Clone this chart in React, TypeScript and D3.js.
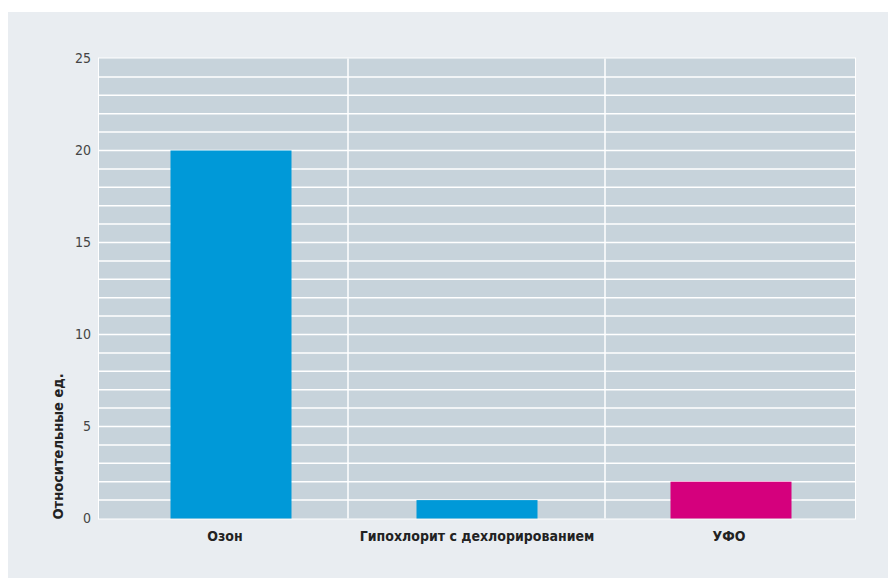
import React from "react";
import * as d3 from "d3";

const categories = ["Озон", "Гипохлорит с дехлорированием", "УФО"];
const values = [20, 1, 2];
const barColors = ["#0099d8", "#0099d8", "#d5007d"];
const yTicks = [0, 5, 10, 15, 20, 25];
const yTitle = "Относительные ед.";

const W = 888;
const H = 578;
const plot = { left: 99, right: 855, top: 58.5, bottom: 518.5 };
const condensed = "'DejaVu Sans Condensed', 'Liberation Sans Narrow', 'Roboto', sans-serif";
const barShift = [6, 0, 2];
const sepShift = [-3, 2];

export default function App() {
  const x = d3
    .scaleBand<string>()
    .domain(categories)
    .range([plot.left, plot.right])
    .paddingInner(0)
    .paddingOuter(0);
  const y = d3.scaleLinear().domain([0, 25]).range([plot.bottom, plot.top]);
  const barW = 121;
  const gridVals = d3.range(1, 25);

  return (
    <svg
      width={W}
      height={H}
      style={{ position: "absolute", left: 0, top: 0, display: "block" }}
    >
      <rect x={0} y={0} width={W} height={H} fill="#ffffff" />
      <rect x={8} y={12} width={W - 8} height={H - 12} fill="#e9edf1" />
      <rect
        x={plot.left - 1}
        y={plot.top - 1}
        width={plot.right - plot.left + 2}
        height={plot.bottom - plot.top + 2}
        fill="#ffffff"
      />
      <rect
        x={plot.left}
        y={plot.top}
        width={plot.right - plot.left}
        height={plot.bottom - plot.top}
        fill="#c7d3db"
      />
      {gridVals.map((v) => (
        <line
          key={v}
          x1={plot.left}
          x2={plot.right}
          y1={y(v)}
          y2={y(v)}
          stroke="#ffffff"
          strokeWidth={1.5}
        />
      ))}
      {categories.slice(1).map((c, i) => (
        <line
          key={c}
          x1={(x(c) as number) + sepShift[i]}
          x2={(x(c) as number) + sepShift[i]}
          y1={plot.top}
          y2={plot.bottom}
          stroke="#ffffff"
          strokeWidth={1.5}
        />
      ))}
      {categories.map((c, i) => {
        const cx = (x(c) as number) + x.bandwidth() / 2;
        return (
          <rect
            key={c}
            x={cx - barW / 2 + barShift[i]}
            y={y(values[i])}
            width={barW}
            height={y(0) - y(values[i])}
            fill={barColors[i]}
          />
        );
      })}
      {yTicks.map((t) => (
        <text
          key={t}
          x={91}
          y={y(t)}
          dy="0.35em"
          textAnchor="end"
          fontFamily="'Liberation Sans Narrow', 'DejaVu Sans Condensed', sans-serif"
          fontSize={14}
          fill="#444444"
        >
          {t}
        </text>
      ))}
      {categories.map((c) => (
        <text
          key={c}
          x={(x(c) as number) + x.bandwidth() / 2}
          y={541}
          textAnchor="middle"
          fontFamily={condensed}
          fontWeight="bold"
          fontSize={14}
          fill="#222222"
        >
          {c}
        </text>
      ))}
      <text
        transform={`translate(63, ${plot.bottom + 1}) rotate(-90)`}
        textAnchor="start"
        fontFamily={condensed}
        fontWeight="bold"
        fontSize={14.5}
        fill="#222222"
      >
        {yTitle}
      </text>
    </svg>
  );
}
